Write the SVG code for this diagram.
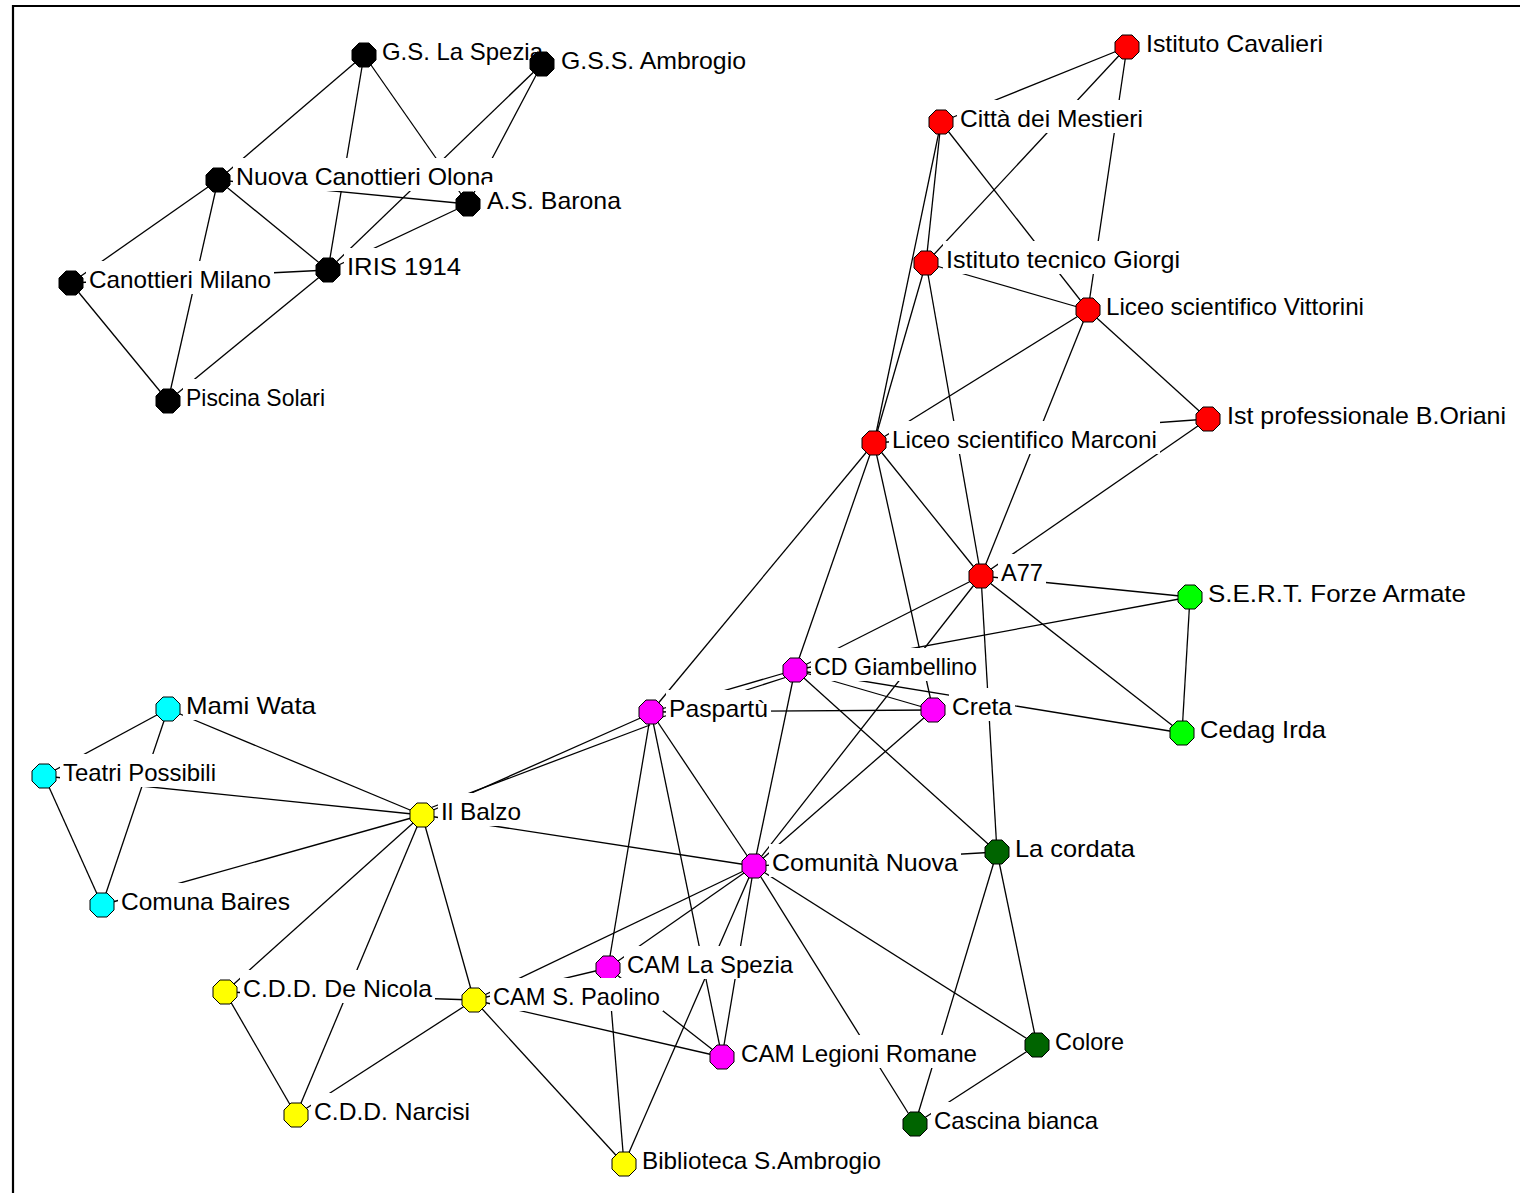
<svg xmlns="http://www.w3.org/2000/svg" xmlns:xlink="http://www.w3.org/1999/xlink" width="1520" height="1193" viewBox="0 0 1520 1193">
<style>
.e line{stroke:#000;stroke-width:1.3}
.n polygon,.n use{stroke:#000;stroke-width:1}
.lb{fill:#fff}
.t{font-family:"Liberation Sans",Arial,sans-serif;font-size:24px;fill:#000}
.k{fill:#000}.r{fill:#ff0000}.g{fill:#00ff00}.m{fill:#ff00ff}.d{fill:#006400}.c{fill:#00ffff}.y{fill:#ffff00}
</style>
<defs>
<polygon id="oct" points="12,5 5,12 -5,12 -12,5 -12,-5 -5,-12 5,-12 12,-5"/>
</defs>
<rect x="0" y="0" width="1520" height="1193" fill="#fff"/>
<path d="M13,1193 V6 H1520" fill="none" stroke="#000" stroke-width="2.2"/>
<g id="connectors" class="e">
<line x1="364" y1="55" x2="218" y2="180"/>
<line x1="364" y1="55" x2="328" y2="270"/>
<line x1="364" y1="55" x2="468" y2="204"/>
<line x1="542" y1="64" x2="328" y2="270"/>
<line x1="542" y1="64" x2="468" y2="204"/>
<line x1="218" y1="180" x2="468" y2="204"/>
<line x1="218" y1="180" x2="328" y2="270"/>
<line x1="218" y1="180" x2="71" y2="283"/>
<line x1="218" y1="180" x2="168" y2="401"/>
<line x1="328" y1="270" x2="468" y2="204"/>
<line x1="328" y1="270" x2="71" y2="283"/>
<line x1="328" y1="270" x2="168" y2="401"/>
<line x1="71" y1="283" x2="168" y2="401"/>
<line x1="1127" y1="47" x2="941" y2="122"/>
<line x1="1127" y1="47" x2="926" y2="263"/>
<line x1="1127" y1="47" x2="1088" y2="310"/>
<line x1="941" y1="122" x2="1088" y2="310"/>
<line x1="941" y1="122" x2="926" y2="263"/>
<line x1="941" y1="122" x2="874" y2="443"/>
<line x1="926" y1="263" x2="874" y2="443"/>
<line x1="926" y1="263" x2="1088" y2="310"/>
<line x1="926" y1="263" x2="981" y2="576"/>
<line x1="1088" y1="310" x2="874" y2="443"/>
<line x1="1088" y1="310" x2="981" y2="576"/>
<line x1="1088" y1="310" x2="1208" y2="419"/>
<line x1="1208" y1="419" x2="874" y2="443"/>
<line x1="1208" y1="419" x2="981" y2="576"/>
<line x1="874" y1="443" x2="981" y2="576"/>
<line x1="874" y1="443" x2="651" y2="712"/>
<line x1="874" y1="443" x2="795" y2="670"/>
<line x1="874" y1="443" x2="933" y2="710"/>
<line x1="981" y1="576" x2="1190" y2="597"/>
<line x1="981" y1="576" x2="1182" y2="733"/>
<line x1="981" y1="576" x2="997" y2="852"/>
<line x1="981" y1="576" x2="795" y2="670"/>
<line x1="981" y1="576" x2="754" y2="866"/>
<line x1="1190" y1="597" x2="1182" y2="733"/>
<line x1="1190" y1="597" x2="795" y2="670"/>
<line x1="795" y1="670" x2="1182" y2="733"/>
<line x1="795" y1="670" x2="651" y2="712"/>
<line x1="790" y1="676" x2="656" y2="719"/>
<line x1="795" y1="670" x2="933" y2="710"/>
<line x1="795" y1="670" x2="754" y2="866"/>
<line x1="795" y1="670" x2="997" y2="852"/>
<line x1="651" y1="712" x2="933" y2="710"/>
<line x1="645" y1="716" x2="422" y2="815"/>
<line x1="650" y1="725" x2="430" y2="808"/>
<line x1="651" y1="712" x2="754" y2="866"/>
<line x1="651" y1="712" x2="608" y2="968"/>
<line x1="651" y1="712" x2="722" y2="1057"/>
<line x1="933" y1="710" x2="754" y2="866"/>
<line x1="754" y1="866" x2="422" y2="815"/>
<line x1="754" y1="866" x2="997" y2="852"/>
<line x1="754" y1="866" x2="1037" y2="1045"/>
<line x1="754" y1="866" x2="915" y2="1124"/>
<line x1="754" y1="866" x2="722" y2="1057"/>
<line x1="754" y1="866" x2="608" y2="968"/>
<line x1="754" y1="866" x2="474" y2="1000"/>
<line x1="754" y1="866" x2="624" y2="1164"/>
<line x1="608" y1="968" x2="474" y2="1000"/>
<line x1="608" y1="968" x2="624" y2="1164"/>
<line x1="608" y1="968" x2="722" y2="1057"/>
<line x1="474" y1="1000" x2="722" y2="1057"/>
<line x1="422" y1="815" x2="168" y2="709"/>
<line x1="422" y1="815" x2="44" y2="776"/>
<line x1="422" y1="815" x2="102" y2="905"/>
<line x1="422" y1="815" x2="225" y2="992"/>
<line x1="422" y1="815" x2="296" y2="1115"/>
<line x1="422" y1="815" x2="474" y2="1000"/>
<line x1="168" y1="709" x2="44" y2="776"/>
<line x1="168" y1="709" x2="102" y2="905"/>
<line x1="44" y1="776" x2="102" y2="905"/>
<line x1="225" y1="992" x2="296" y2="1115"/>
<line x1="225" y1="992" x2="474" y2="1000"/>
<line x1="296" y1="1115" x2="474" y2="1000"/>
<line x1="474" y1="1000" x2="624" y2="1164"/>
<line x1="997" y1="852" x2="1037" y2="1045"/>
<line x1="997" y1="852" x2="915" y2="1124"/>
<line x1="1037" y1="1045" x2="915" y2="1124"/>
</g>
<g id="GSLS" class="n"><use xlink:href="#oct" href="#oct" x="364" y="55" class="k"/><rect class="lb" x="379" y="33" width="167" height="33"/><text class="t" x="382" y="60" textLength="161" lengthAdjust="spacingAndGlyphs">G.S. La Spezia</text></g>
<g id="GSSA" class="n"><use xlink:href="#oct" href="#oct" x="542" y="64" class="k"/><rect class="lb" x="558" y="42" width="191" height="33"/><text class="t" x="561" y="69" textLength="185" lengthAdjust="spacingAndGlyphs">G.S.S. Ambrogio</text></g>
<g id="NCO" class="n"><use xlink:href="#oct" href="#oct" x="218" y="180" class="k"/><rect class="lb" x="233" y="158" width="264" height="33"/><text class="t" x="236" y="185" textLength="258" lengthAdjust="spacingAndGlyphs">Nuova Canottieri Olona</text></g>
<g id="ASB" class="n"><use xlink:href="#oct" href="#oct" x="468" y="204" class="k"/><rect class="lb" x="484" y="182" width="140" height="33"/><text class="t" x="487" y="209" textLength="134" lengthAdjust="spacingAndGlyphs">A.S. Barona</text></g>
<g id="IRIS" class="n"><use xlink:href="#oct" href="#oct" x="328" y="270" class="k"/><rect class="lb" x="344" y="248" width="120" height="33"/><text class="t" x="347" y="275" textLength="114" lengthAdjust="spacingAndGlyphs">IRIS 1914</text></g>
<g id="CM" class="n"><use xlink:href="#oct" href="#oct" x="71" y="283" class="k"/><rect class="lb" x="86" y="261" width="188" height="33"/><text class="t" x="89" y="288" textLength="182" lengthAdjust="spacingAndGlyphs">Canottieri Milano</text></g>
<g id="PS" class="n"><use xlink:href="#oct" href="#oct" x="168" y="401" class="k"/><rect class="lb" x="183" y="379" width="145" height="33"/><text class="t" x="186" y="406" textLength="139" lengthAdjust="spacingAndGlyphs">Piscina Solari</text></g>
<g id="IC" class="n"><use xlink:href="#oct" href="#oct" x="1127" y="47" class="r"/><rect class="lb" x="1143" y="25" width="183" height="33"/><text class="t" x="1146" y="52" textLength="177" lengthAdjust="spacingAndGlyphs">Istituto Cavalieri</text></g>
<g id="CDM" class="n"><use xlink:href="#oct" href="#oct" x="941" y="122" class="r"/><rect class="lb" x="957" y="100" width="189" height="33"/><text class="t" x="960" y="127" textLength="183" lengthAdjust="spacingAndGlyphs">Città dei Mestieri</text></g>
<g id="ITG" class="n"><use xlink:href="#oct" href="#oct" x="926" y="263" class="r"/><rect class="lb" x="943" y="241" width="240" height="33"/><text class="t" x="946" y="268" textLength="234" lengthAdjust="spacingAndGlyphs">Istituto tecnico Giorgi</text></g>
<g id="LSV" class="n"><use xlink:href="#oct" href="#oct" x="1088" y="310" class="r"/><rect class="lb" x="1103" y="288" width="264" height="33"/><text class="t" x="1106" y="315" textLength="258" lengthAdjust="spacingAndGlyphs">Liceo scientifico Vittorini</text></g>
<g id="IPO" class="n"><use xlink:href="#oct" href="#oct" x="1208" y="419" class="r"/><rect class="lb" x="1224" y="397" width="285" height="33"/><text class="t" x="1227" y="424" textLength="279" lengthAdjust="spacingAndGlyphs">Ist professionale B.Oriani</text></g>
<g id="LSM" class="n"><use xlink:href="#oct" href="#oct" x="874" y="443" class="r"/><rect class="lb" x="889" y="421" width="271" height="33"/><text class="t" x="892" y="448" textLength="265" lengthAdjust="spacingAndGlyphs">Liceo scientifico Marconi</text></g>
<g id="A77" class="n"><use xlink:href="#oct" href="#oct" x="981" y="576" class="r"/><rect class="lb" x="998" y="554" width="48" height="33"/><text class="t" x="1001" y="581" textLength="42" lengthAdjust="spacingAndGlyphs">A77</text></g>
<g id="SERT" class="n"><use xlink:href="#oct" href="#oct" x="1190" y="597" class="g"/><rect class="lb" x="1205" y="575" width="264" height="33"/><text class="t" x="1208" y="602" textLength="258" lengthAdjust="spacingAndGlyphs">S.E.R.T. Forze Armate</text></g>
<g id="CI" class="n"><use xlink:href="#oct" href="#oct" x="1182" y="733" class="g"/><rect class="lb" x="1197" y="711" width="132" height="33"/><text class="t" x="1200" y="738" textLength="126" lengthAdjust="spacingAndGlyphs">Cedag Irda</text></g>
<g id="CDG" class="n"><use xlink:href="#oct" href="#oct" x="795" y="670" class="m"/><rect class="lb" x="811" y="648" width="169" height="33"/><text class="t" x="814" y="675" textLength="163" lengthAdjust="spacingAndGlyphs">CD Giambellino</text></g>
<g id="PAS" class="n"><use xlink:href="#oct" href="#oct" x="651" y="712" class="m"/><rect class="lb" x="666" y="690" width="105" height="33"/><text class="t" x="669" y="717" textLength="99" lengthAdjust="spacingAndGlyphs">Paspartù</text></g>
<g id="CRE" class="n"><use xlink:href="#oct" href="#oct" x="933" y="710" class="m"/><rect class="lb" x="949" y="688" width="66" height="33"/><text class="t" x="952" y="715" textLength="60" lengthAdjust="spacingAndGlyphs">Creta</text></g>
<g id="CN" class="n"><use xlink:href="#oct" href="#oct" x="754" y="866" class="m"/><rect class="lb" x="769" y="844" width="192" height="33"/><text class="t" x="772" y="871" textLength="186" lengthAdjust="spacingAndGlyphs">Comunità Nuova</text></g>
<g id="LC" class="n"><use xlink:href="#oct" href="#oct" x="997" y="852" class="d"/><rect class="lb" x="1012" y="830" width="126" height="33"/><text class="t" x="1015" y="857" textLength="120" lengthAdjust="spacingAndGlyphs">La cordata</text></g>
<g id="CAMLS" class="n"><use xlink:href="#oct" href="#oct" x="608" y="968" class="m"/><rect class="lb" x="624" y="946" width="172" height="33"/><text class="t" x="627" y="973" textLength="166" lengthAdjust="spacingAndGlyphs">CAM La Spezia</text></g>
<g id="CAMSP" class="n"><use xlink:href="#oct" href="#oct" x="474" y="1000" class="y"/><rect class="lb" x="490" y="978" width="173" height="33"/><text class="t" x="493" y="1005" textLength="167" lengthAdjust="spacingAndGlyphs">CAM S. Paolino</text></g>
<g id="CAMLR" class="n"><use xlink:href="#oct" href="#oct" x="722" y="1057" class="m"/><rect class="lb" x="738" y="1035" width="242" height="33"/><text class="t" x="741" y="1062" textLength="236" lengthAdjust="spacingAndGlyphs">CAM Legioni Romane</text></g>
<g id="COL" class="n"><use xlink:href="#oct" href="#oct" x="1037" y="1045" class="d"/><rect class="lb" x="1052" y="1023" width="75" height="33"/><text class="t" x="1055" y="1050" textLength="69" lengthAdjust="spacingAndGlyphs">Colore</text></g>
<g id="CB" class="n"><use xlink:href="#oct" href="#oct" x="915" y="1124" class="d"/><rect class="lb" x="931" y="1102" width="170" height="33"/><text class="t" x="934" y="1129" textLength="164" lengthAdjust="spacingAndGlyphs">Cascina bianca</text></g>
<g id="BSA" class="n"><use xlink:href="#oct" href="#oct" x="624" y="1164" class="y"/><rect class="lb" x="639" y="1142" width="245" height="33"/><text class="t" x="642" y="1169" textLength="239" lengthAdjust="spacingAndGlyphs">Biblioteca S.Ambrogio</text></g>
<g id="MW" class="n"><use xlink:href="#oct" href="#oct" x="168" y="709" class="c"/><rect class="lb" x="183" y="687" width="136" height="33"/><text class="t" x="186" y="714" textLength="130" lengthAdjust="spacingAndGlyphs">Mami Wata</text></g>
<g id="TP" class="n"><use xlink:href="#oct" href="#oct" x="44" y="776" class="c"/><rect class="lb" x="60" y="754" width="159" height="33"/><text class="t" x="63" y="781" textLength="153" lengthAdjust="spacingAndGlyphs">Teatri Possibili</text></g>
<g id="CBA" class="n"><use xlink:href="#oct" href="#oct" x="102" y="905" class="c"/><rect class="lb" x="118" y="883" width="175" height="33"/><text class="t" x="121" y="910" textLength="169" lengthAdjust="spacingAndGlyphs">Comuna Baires</text></g>
<g id="IB" class="n"><use xlink:href="#oct" href="#oct" x="422" y="815" class="y"/><rect class="lb" x="438" y="793" width="86" height="33"/><text class="t" x="441" y="820" textLength="80" lengthAdjust="spacingAndGlyphs">Il Balzo</text></g>
<g id="CDDN" class="n"><use xlink:href="#oct" href="#oct" x="225" y="992" class="y"/><rect class="lb" x="240" y="970" width="195" height="33"/><text class="t" x="243" y="997" textLength="189" lengthAdjust="spacingAndGlyphs">C.D.D. De Nicola</text></g>
<g id="CDDNA" class="n"><use xlink:href="#oct" href="#oct" x="296" y="1115" class="y"/><rect class="lb" x="311" y="1093" width="162" height="33"/><text class="t" x="314" y="1120" textLength="156" lengthAdjust="spacingAndGlyphs">C.D.D. Narcisi</text></g>
</svg>
